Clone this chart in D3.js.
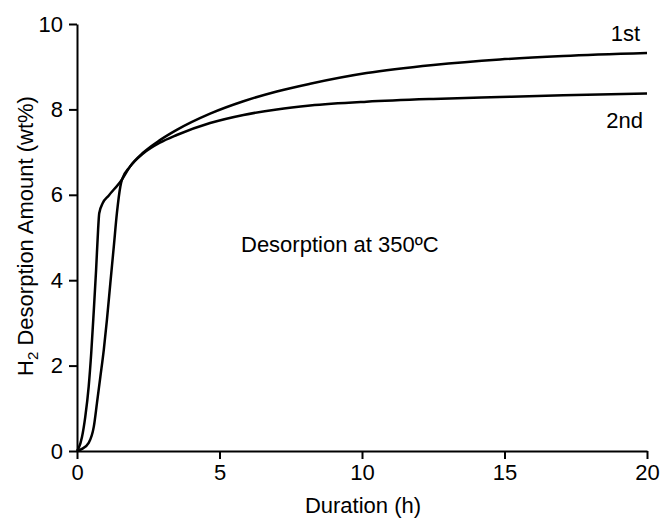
<!DOCTYPE html>
<html>
<head>
<meta charset="utf-8">
<script src="https://cdn.jsdelivr.net/npm/d3@7"></script>
<style>
  body { margin: 0; background: #fff; }
  svg text { font-family: "Liberation Sans", Arial, sans-serif; fill: #000; }
</style>
</head>
<body>
<svg id="chart" width="665" height="521"></svg>
<script>
// duration (h) and desorbed amount (wt%)
var run1Hours = [0, 0.175, 0.41, 0.59, 0.70, 0.82, 0.94, 1.05, 1.17, 1.29, 1.40, 1.52, 1.58,
                 1.86, 2.33, 2.91, 3.50, 4.67, 5.84, 7.01, 8.18, 10.16, 12.5, 14.84, 17.06, 20];
var run1Amount = [0, 0.05, 0.19, 0.57, 1.12, 1.74, 2.37, 3.07, 3.93, 4.78, 5.57, 6.19, 6.36,
                  6.66, 6.99, 7.28, 7.52, 7.90, 8.19, 8.42, 8.60, 8.85, 9.04, 9.17, 9.25, 9.32];

var run2Hours = [0, 0.06, 0.175, 0.29, 0.41, 0.50, 0.59, 0.67, 0.74, 0.78, 0.90, 1.11, 1.58,
                 1.86, 2.33, 2.91, 3.50, 4.67, 5.84, 7.01, 8.18, 10.16, 12.5, 14.84, 17.06, 20];
var run2Amount = [0, 0.07, 0.33, 0.80, 1.51, 2.30, 3.30, 4.24, 5.18, 5.57, 5.80, 5.98, 6.36,
                  6.66, 6.97, 7.22, 7.40, 7.68, 7.87, 8.00, 8.09, 8.18, 8.245, 8.29, 8.33, 8.37];

var xTicks = [0, 5, 10, 15, 20];
var yTicks = [0, 2, 4, 6, 8, 10];

var svg = d3.select("#chart");
var margin = {left: 77, right: 18, top: 24, bottom: 70};
var width = 665 - margin.left - margin.right,
    height = 521 - margin.top - margin.bottom;

var g = svg.append("g").attr("transform", "translate(" + margin.left + "," + margin.top + ")");

var x = d3.scaleLinear().domain([0, 20]).range([0, width]);
var y = d3.scaleLinear().domain([0, 10]).range([height, 0]);

var xAxis = g.append("g")
    .attr("transform", "translate(0," + height + ")")
    .call(d3.axisBottom(x).tickValues(xTicks).tickSize(8).tickPadding(5).tickSizeOuter(0));
var yAxis = g.append("g")
    .call(d3.axisLeft(y).tickValues(yTicks).tickSize(8).tickPadding(6).tickSizeOuter(0));

[xAxis, yAxis].forEach(function(a) {
    a.select(".domain").attr("stroke", "#000").attr("stroke-width", 2);
    a.selectAll(".tick line").attr("stroke", "#000").attr("stroke-width", 2);
    a.selectAll(".tick text").attr("font-size", 22).attr("font-family", "Liberation Sans, Arial, sans-serif");
});

var line = d3.line()
    .x(function(d) { return x(d[0]); })
    .y(function(d) { return y(d[1]); })
    .curve(d3.curveMonotoneX);

var series = [d3.zip(run1Hours, run1Amount), d3.zip(run2Hours, run2Amount)];
g.selectAll("path.run")
    .data(series)
    .enter().append("path")
    .attr("class", "run")
    .attr("d", line)
    .attr("fill", "none")
    .attr("stroke", "#000")
    .attr("stroke-width", 2.5)
    .attr("stroke-linejoin", "round");

// labels
svg.append("text").attr("x", 640).attr("y", 41).attr("text-anchor", "end")
    .attr("font-size", 22).text("1st");
svg.append("text").attr("x", 643).attr("y", 128).attr("text-anchor", "end")
    .attr("font-size", 22).text("2nd");
svg.append("text").attr("x", 241).attr("y", 252).attr("font-size", 22)
    .text("Desorption at 350ºC");

svg.append("text").attr("x", 363).attr("y", 513).attr("text-anchor", "middle")
    .attr("font-size", 22).text("Duration (h)");

var yt = svg.append("text")
    .attr("transform", "translate(33,236) rotate(-90)")
    .attr("text-anchor", "middle")
    .attr("font-size", 22);
yt.append("tspan").text("H");
yt.append("tspan").attr("font-size", 15).attr("dy", 5).text("2");
yt.append("tspan").attr("dy", -5).text(" Desorption Amount (wt%)");
</script>
</body>
</html>
